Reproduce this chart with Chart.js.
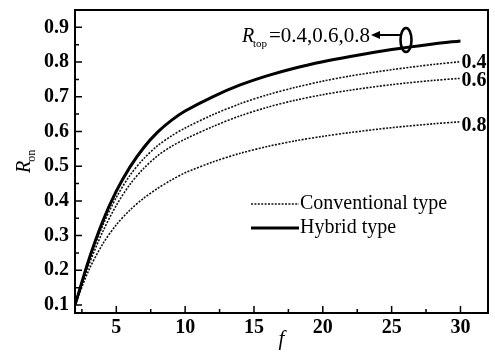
<!DOCTYPE html>
<html>
<head>
<meta charset="utf-8">
<script src="https://cdn.jsdelivr.net/npm/chart.js@4"></script>
<style>
  html, body { margin: 0; padding: 0; background: #fff; }
  canvas { display: block; }
</style>
</head>
<body>
<canvas id="chart" width="495" height="361"></canvas>
<script>
/* ===== DATA ===== */
const F_VALUES = [2, 3, 4, 5, 6, 7, 8, 9, 10, 12, 14, 16, 18, 20, 22, 25, 28, 30];
const HYBRID   = [0.10, 0.23, 0.34, 0.428, 0.498, 0.554, 0.598, 0.632, 0.659, 0.70, 0.734, 0.761, 0.783, 0.801, 0.816, 0.836, 0.852, 0.861];
const CONV_04  = [0.10, 0.225, 0.328, 0.41, 0.474, 0.522, 0.559, 0.587, 0.61, 0.648, 0.68, 0.706, 0.727, 0.745, 0.76, 0.778, 0.793, 0.801];
const CONV_06  = [0.10, 0.215, 0.31, 0.387, 0.448, 0.494, 0.53, 0.557, 0.578, 0.614, 0.645, 0.67, 0.69, 0.706, 0.719, 0.735, 0.747, 0.753];
const CONV_08  = [0.10, 0.20, 0.275, 0.331, 0.374, 0.408, 0.436, 0.46, 0.481, 0.512, 0.537, 0.557, 0.573, 0.586, 0.597, 0.611, 0.622, 0.628];

const X_TICKS = [5, 10, 15, 20, 25, 30];
const X_MINOR = [2.5, 7.5, 12.5, 17.5, 22.5, 27.5];
const Y_TICKS = [0.1, 0.2, 0.3, 0.4, 0.5, 0.6, 0.7, 0.8, 0.9];
const Y_MINOR = [0.15, 0.25, 0.35, 0.45, 0.55, 0.65, 0.75, 0.85];

const END_LABELS = ["0.4", "0.6", "0.8"];
const END_VALUES = [0.80, 0.75, 0.62];

const SERIF = "'Liberation Serif', 'DejaVu Serif', serif";

/* ===== HELPERS ===== */
function toPoints(arr) {
  return F_VALUES.map((f, i) => ({ x: f, y: arr[i] }));
}

function convSet(arr) {
  return {
    label: "Conventional type",
    data: toPoints(arr),
    borderColor: "#111",
    borderWidth: 1.6,
    borderDash: [2, 1.4],
    pointRadius: 0,
    tension: 0.3,
    fill: false,
  };
}

const datasets = [
  {
    label: "Hybrid type",
    data: toPoints(HYBRID),
    borderColor: "#000",
    borderWidth: 3,
    pointRadius: 0,
    tension: 0.3,
    fill: false,
  },
  convSet(CONV_04),
  convSet(CONV_06),
  convSet(CONV_08),
];

// drop the automatic label padding so the plot box sits where we fix it
function noPad(s) {
  s.paddingTop = 0;
  s.paddingBottom = 0;
  s.paddingLeft = 0;
  s.paddingRight = 0;
}

/* ===== FRAME, TICKS, ANNOTATIONS ===== */
const decorPlugin = {
  id: "decor",
  afterDraw(chart) {
    const { ctx, chartArea: a, scales } = chart;
    const xs = scales.x, ys = scales.y;

    ctx.save();
    ctx.strokeStyle = "#000";

    // box
    ctx.lineWidth = 2;
    ctx.strokeRect(a.left, a.top, a.right - a.left, a.bottom - a.top);

    // inward ticks
    ctx.lineWidth = 1.5;
    ctx.beginPath();
    X_TICKS.forEach((v) => {
      const px = xs.getPixelForValue(v);
      ctx.moveTo(px, a.bottom); ctx.lineTo(px, a.bottom - 7);
    });
    X_MINOR.forEach((v) => {
      const px = xs.getPixelForValue(v);
      ctx.moveTo(px, a.bottom); ctx.lineTo(px, a.bottom - 4);
    });
    Y_TICKS.forEach((v) => {
      const py = ys.getPixelForValue(v);
      ctx.moveTo(a.left, py); ctx.lineTo(a.left + 7, py);
    });
    Y_MINOR.forEach((v) => {
      const py = ys.getPixelForValue(v);
      ctx.moveTo(a.left, py); ctx.lineTo(a.left + 4, py);
    });
    ctx.stroke();

    ctx.fillStyle = "#000";

    // y axis title R_on
    ctx.save();
    ctx.translate(30, 173);
    ctx.rotate(-Math.PI / 2);
    ctx.textBaseline = "alphabetic";
    ctx.textAlign = "left";
    ctx.font = `italic 20px ${SERIF}`;
    ctx.fillText("R", 0, 0);
    const rw = ctx.measureText("R").width;
    ctx.font = `12px ${SERIF}`;
    ctx.fillText("on", rw - 1, 5);
    ctx.restore();

    // labels at curve ends
    ctx.font = `bold 20px ${SERIF}`;
    ctx.textAlign = "left";
    ctx.textBaseline = "middle";
    const xEnd = xs.getPixelForValue(F_VALUES[F_VALUES.length - 1]) + 1;
    END_LABELS.forEach((t, i) => {
      ctx.fillText(t, xEnd, ys.getPixelForValue(END_VALUES[i]) + 1);
    });

    // R_top annotation
    ctx.textBaseline = "alphabetic";
    const ty = 42;
    ctx.font = `italic 20px ${SERIF}`;
    ctx.fillText("R", 242, ty);
    ctx.font = `11px ${SERIF}`;
    ctx.fillText("top", 253, ty + 5);
    ctx.font = `21px ${SERIF}`;
    ctx.fillText("=0.4,0.6,0.8", 269, ty);

    // arrow and ellipse
    ctx.lineWidth = 2;
    ctx.beginPath();
    ctx.moveTo(401, 35); ctx.lineTo(377, 35);
    ctx.stroke();
    ctx.beginPath();
    ctx.moveTo(371, 35); ctx.lineTo(380, 31); ctx.lineTo(380, 39);
    ctx.closePath();
    ctx.fill();
    ctx.lineWidth = 2.6;
    ctx.beginPath();
    ctx.ellipse(406, 40, 5.5, 12, 0, 0, Math.PI * 2);
    ctx.stroke();

    // legend
    const entries = [datasets[1], datasets[0]];
    ctx.font = `20px ${SERIF}`;
    entries.forEach((d, i) => {
      const ly = 204 + i * 24;
      ctx.save();
      ctx.strokeStyle = d.borderColor;
      ctx.lineWidth = d.borderWidth;
      ctx.setLineDash(d.borderDash || []);
      ctx.beginPath();
      ctx.moveTo(251, ly); ctx.lineTo(299, ly);
      ctx.stroke();
      ctx.restore();
      ctx.fillText(d.label, 300, ly + 5);
    });

    ctx.restore();
  },
};

/* ===== CHART ===== */
new Chart(document.getElementById("chart"), {
  type: "line",
  data: { datasets },
  options: {
    responsive: false,
    animation: false,
    layout: { padding: { top: 10, right: 7, left: 0, bottom: 0 } },
    plugins: { legend: { display: false }, tooltip: { enabled: false } },
    scales: {
      x: {
        type: "linear",
        min: 2,
        max: 32,
        grid: { display: false, drawTicks: false },
        border: { display: false },
        afterBuildTicks: (s) => { s.ticks = X_TICKS.map((v) => ({ value: v })); },
        afterFit: (s) => { s.height = 48; noPad(s); },
        ticks: {
          color: "#000",
          padding: 3,
          maxRotation: 0,
          font: { family: SERIF, size: 20, weight: "bold" },
        },
        title: {
          display: true,
          text: "f",
          color: "#000",
          padding: { top: 0, bottom: 9 },
          font: { family: SERIF, size: 21, style: "italic" },
        },
      },
      y: {
        min: 0.077,
        max: 0.95,
        grid: { display: false, drawTicks: false },
        border: { display: false },
        afterBuildTicks: (s) => { s.ticks = Y_TICKS.map((v) => ({ value: v })); },
        afterFit: (s) => { s.width = 75; noPad(s); },
        ticks: {
          color: "#000",
          padding: 6,
          font: { family: SERIF, size: 20, weight: "bold" },
          callback: (v) => v.toFixed(1),
        },
      },
    },
  },
  plugins: [decorPlugin],
});
</script>
</body>
</html>
